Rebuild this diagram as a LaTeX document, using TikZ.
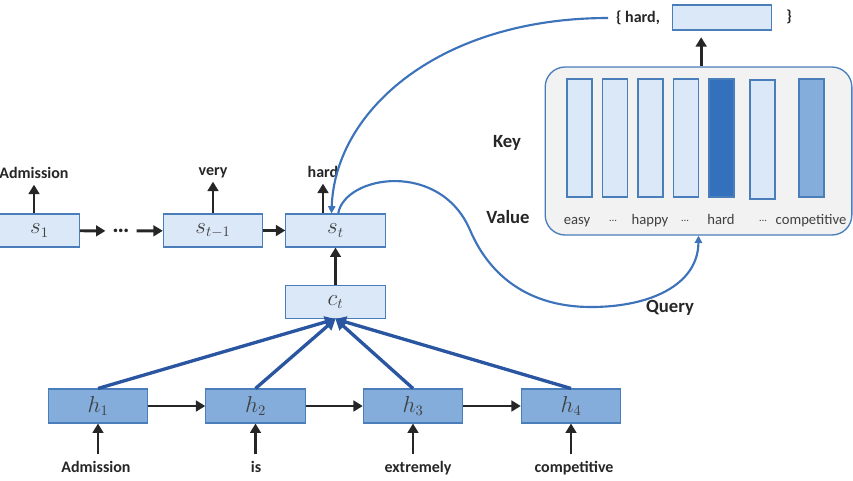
\documentclass[tikz,border=0pt]{standalone}
\usepackage{fontspec}
\setmainfont{Carlito}
\usetikzlibrary{arrows.meta}
\definecolor{lightfill}{HTML}{DAE8F7}
\definecolor{boxborder}{HTML}{4A7EBB}
\definecolor{hfill}{HTML}{84ADDC}
\definecolor{darkbar}{HTML}{3371BC}
\definecolor{curveblue}{HTML}{3C73BA}
\definecolor{attblue}{HTML}{2A55A0}
\definecolor{panel}{HTML}{F2F2F2}
\definecolor{arrowblack}{HTML}{262626}
\definecolor{txt}{HTML}{262626}
\definecolor{txttwo}{HTML}{404040}
\tikzset{
 lbox/.style={draw=boxborder, fill=lightfill, line width=0.8pt, minimum width=74.5pt, minimum height=24.75pt, inner sep=0pt, text=txttwo, font=\fontsize{16}{18}\selectfont},
 hbox/.style={lbox, fill=hfill, minimum height=25.5pt},
 arr/.style={draw=arrowblack, line width=2.2pt, -{Triangle[length=7pt,width=8pt]}},
 att/.style={draw=attblue, line width=2.5pt, -{Triangle[length=8pt,width=8.5pt]}},
 crv/.style={draw=curveblue, line width=1.6pt, -{Triangle[length=5.5pt,width=5.5pt]}},
 lab/.style={font=\bfseries\fontsize{12}{14}\selectfont, text=txt, inner sep=0pt, text depth=0pt, outer sep=5pt, anchor=base},
 big/.style={font=\bfseries\fontsize{14}{16}\selectfont, text=txt},
 bar/.style={draw=boxborder, line width=0.8pt, minimum width=18.75pt, minimum height=88.5pt, inner sep=0pt},
 barlab/.style={font=\fontsize{11}{13}\selectfont, text=txttwo, anchor=base, inner sep=0pt},
}
\newcommand{\smalldots}{\raisebox{2pt}{\fontsize{8}{9}\selectfont\char"2026}}
\begin{document}
\begin{tikzpicture}[x=0.75pt,y=-0.75pt]
\useasboundingbox (0,0) rectangle (853,480);

% decoder states
\node[lbox, minimum width=60pt] (s1) at (39.5,230.5) {$s_1$};
\node[inner sep=0pt, minimum width=23pt, text=txt, font=\bfseries\fontsize{18}{18}\selectfont] (dots) at (121,231) {\char"2026};
\node[lbox] (st1) at (213,230.5) {$s_{t-1}$};
\node[lbox] (st) at (335.5,230.5) {$s_t$};
\node[lbox] (ct) at (335.5,302) {$c_t$};

% encoder states
\node[hbox] (h1) at (98,406) {$h_1$};
\node[hbox] (h2) at (255.5,406) {$h_2$};
\node[hbox] (h3) at (413,406) {$h_3$};
\node[hbox] (h4) at (571,406) {$h_4$};

% words
\node[lab] (w1) at (96,472) {Admission};
\node[lab] (w2) at (256,472) {is};
\node[lab] (w3) at (418,472) {extremely};
\node[lab] (w4) at (574,472) {competitive};

% output labels
\node[lab] (o1) at (34,178) {Admission};
\node[lab] (o2) at (213,175) {very};
\node[lab] (o3) at (323,177) {hard};

% arrows
\draw[arr] (s1) -- (dots);
\draw[arr] (dots) -- (st1);
\draw[arr] (st1) -- (st);
\draw[arr] (ct) -- (st);
\draw[arr] (h1) -- (h2);
\draw[arr] (h2) -- (h3);
\draw[arr] (h3) -- (h4);
\foreach \w/\h in {w1/h1,w2/h2,w3/h3,w4/h4}
  \draw[arr] (\w.north -| \h) -- (\h.south);
\draw[arr] (s1.north -| o1) -- (o1.south);
\draw[arr] (st1.north -| o2) -- (o2.south);
\draw[arr] (st.north -| o3) -- (o3.south);

% attention arrows
\foreach \h in {h1,h2,h3,h4}
  \draw[att] (\h.north) -- (ct.south);

% memory panel
\node[draw=boxborder, fill=panel, line width=1pt, rounded corners=15pt, minimum width=230pt, minimum height=126pt, inner sep=0pt] (panel) at (698.5,151) {};
\node[bar, fill=lightfill] (b1) at (579.5,138) {};
\node[bar, fill=lightfill] (b2) at (615,138) {};
\node[bar, fill=lightfill] (b3) at (650.5,138) {};
\node[bar, fill=lightfill] (b4) at (686,138) {};
\node[bar, fill=darkbar] (b5) at (721.5,138) {};
\node[bar, fill=lightfill, minimum height=89.25pt] (b6) at (762.5,139.5) {};
\node[bar, fill=hfill] (b7) at (811.5,138) {};
\node[barlab] (v1) at (577,224) {easy};
\node[barlab] (v2) at (613,224) {\smalldots};
\node[barlab] (v3) at (650,224) {happy};
\node[barlab] (v4) at (685,224) {\smalldots};
\node[barlab] (v5) at (721,224) {hard};
\node[barlab] (v6) at (763,224) {\smalldots};
\node[barlab] (v7) at (811,224) {competitive};

\node[big] (key) at (507,143) {Key};
\node[big] (value) at (508,217) {Value};
\node[big] (query) at (670,308) {Query};

% top output set
\node[font=\bfseries\fontsize{12}{14}\selectfont, text=txt, inner sep=1pt, outer sep=5pt] (hardset) at (638,18) {\{ hard,};
\node[lbox, minimum height=18.75pt] (topbox) at (722,17.5) {};
\node[font=\bfseries\fontsize{12}{14}\selectfont, text=txt] (rbrace) at (789,17) {\}};
\draw[arr, shorten >=5pt] ([xshift=2pt]panel.north) -- ([xshift=2pt]panel.north |- topbox.south);

% blue curves
\draw[crv] (hardset.west) .. controls (440,18) and (335,110) .. ([xshift=-3pt]st.north);
\draw[crv] ([xshift=2pt]st.north) .. controls (345,175) and (440,160) .. (470,230)
  .. controls (490,277) and (530,307) .. (591,307)
  .. controls (650,307) and (698,285) .. (panel.south);
\end{tikzpicture}
\end{document}
